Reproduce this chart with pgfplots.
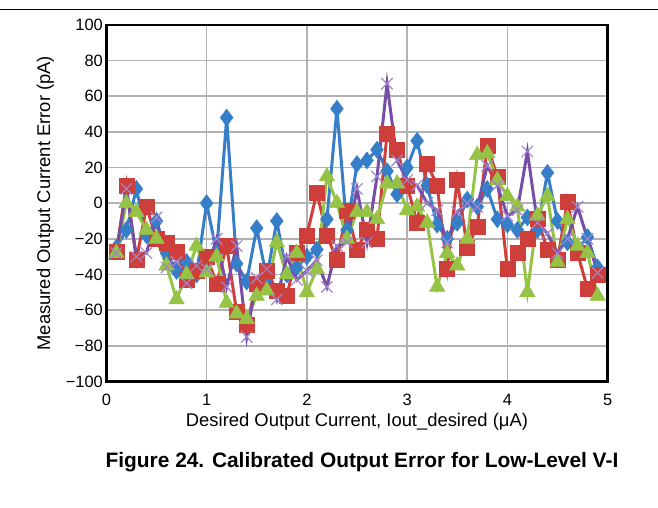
\documentclass[border=0pt]{standalone}
\usepackage{fontspec}
\setmainfont{Liberation Sans}
\usepackage{pgfplots}
\pgfplotsset{compat=1.18}
\usepackage{pgfplotstable}

\definecolor{sblue}{RGB}{55,126,200}
\definecolor{sred}{RGB}{206,62,58}
\definecolor{sgreen}{RGB}{150,195,70}
\definecolor{spurple}{RGB}{118,78,165}
\definecolor{spurplemk}{RGB}{160,132,205}

% x in uA, error in pA
\pgfplotstableread{
x    blue  red  green purple
0.1  -25  -27  -28  -28
0.2  -15   10    0    8
0.3    8  -32   -5  -30
0.4  -18   -2  -15  -28
0.5  -10  -20  -20   -8
0.6  -28  -22  -35  -36
0.7  -38  -27  -54  -33
0.8  -33  -43  -40  -45
0.9  -40  -38  -24  -35
1.0    0  -30  -39  -37
1.1  -28  -45  -30  -20
1.2   48  -24  -56  -47
1.3  -34  -61  -62  -24
1.4  -44  -68  -65  -75
1.5  -14  -45  -52  -42
1.6  -42  -38  -49  -37
1.7  -10  -49  -22  -54
1.8  -40  -52  -40  -30
1.9  -36  -28  -28  -43
2.0  -30  -18  -50  -38
2.1  -26    6  -37  -32
2.2   -9  -18   15  -47
2.3   53  -32    0  -24
2.4  -15   -4  -20  -22
2.5   22  -26   -5    8
2.6   24  -15   -5  -22
2.7   30  -20   -9   15
2.8   18   39   11   67
2.9    5   30   11   24
3.0   20   10   -4   13
3.1   35  -11   -2   10
3.2   10   22  -11    0
3.3  -12   10  -47   -4
3.4  -20  -37  -28  -22
3.5  -11   13  -35   -5
3.6    2  -25  -20    0
3.7   -2  -13   27   -2
3.8    8   32   28   21
3.9   -9   15   13   10
4.0  -12  -37    4   -7
4.1  -15  -28   -2   -4
4.2   -8  -20  -50   29
4.3  -15   -9   -7  -11
4.4   17  -26    4  -17
4.5  -10  -32  -33  -28
4.6  -22    1   -9  -20
4.7  -26  -28  -24   -2
4.8  -19  -48  -28  -20
4.9  -36  -40  -52  -39
}\errdata

\begin{document}
\begin{tikzpicture}[x=1bp,y=1bp]
\path (0,0) rectangle (658,508);
\draw[line width=1bp] (0,498.5) -- (658,498.5);
\begin{axis}[
  at={(106bp,483bp)}, anchor=north west,
  scale only axis, width=502bp, height=357bp,
  xmin=0, xmax=5, ymin=-100, ymax=100,
  xtick={0,1,2,3,4,5},
  xticklabels={0,1,2,3,4,5},
  ytick={-100,-80,...,100},
  yticklabels={−100,−80,−60,−40,−20,0,20,40,60,80,100},
  grid=major,
  major grid style={draw=gray!60, line width=1.6bp},
  axis line style={line width=2.6bp},
  tick style={draw=none},
  ticklabel style={font=\fontsize{16.5}{18}\selectfont},
  xticklabel style={yshift=-9bp},
  label style={font=\fontsize{18.5}{20}\selectfont},
  xlabel={Desired Output Current, Iout\_desired (μA)},
  ylabel={Measured Output Current Error (pA)},
  xlabel style={at={(axis description cs:0.5,-0.112)}, anchor=center},
  ylabel style={at={(axis description cs:-0.1215,0.5)}, anchor=center},
  every axis plot/.append style={line width=3bp},
  clip=false,
]
\addplot[sblue, mark=diamond*, mark size=8.5bp, mark options={fill=sblue, line width=0.5bp}] table[x=x, y=blue] {\errdata};
\addplot[sred, mark=square*, mark size=7.5bp, mark options={fill=sred, line width=0.5bp}] table[x=x, y=red] {\errdata};
\addplot[sgreen, mark=triangle*, mark size=9bp, mark options={fill=sgreen, line width=0.5bp}] table[x=x, y=green] {\errdata};
\addplot[spurple, mark=x, mark size=8bp, mark options={draw=spurplemk, line width=1.2bp}] table[x=x, y=purple] {\errdata};
\end{axis}
\node[font=\bfseries\fontsize{21}{24}\selectfont] at (362,45) {Figure 24. Calibrated Output Error for Low-Level V-I};
\end{tikzpicture}
\end{document}
